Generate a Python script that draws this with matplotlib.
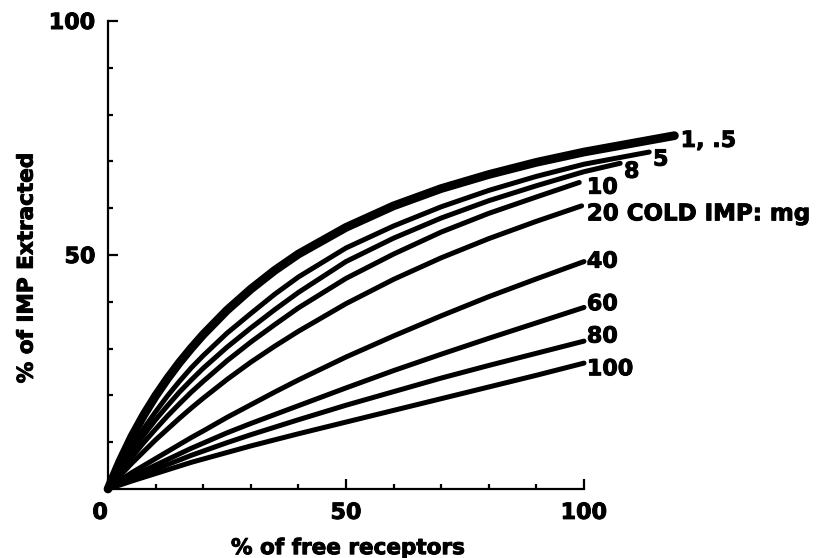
import numpy as np
import matplotlib.pyplot as plt
import matplotlib.patheffects as pe
from matplotlib.ticker import FixedLocator

# % of free receptors (common x grid), curves
x_pts = [0, 2.5, 5, 7.5, 10, 12.5, 15, 17.5, 20, 25, 30, 35, 40, 50, 60, 70, 80, 90, 100]

# cold IMP dose (mg) -> % of IMP extracted at x_pts, plus where each curve ends
dose_labels = ['1, .5', '5', '8', '10', '20 COLD IMP: mg', '40', '60', '80', '100']
end_x = [119, 113.7, 107.6, 99, 99.5, 100, 100, 100, 100]
end_y = [75.5, 72.0, 69.6, 65.5, 60.5, 48.6, 38.8, 31.6, 26.9]

y_1 = [0, 5.9, 11.2, 15.8, 19.9, 23.6, 27.0, 30.1, 33.0, 38.2, 42.7, 46.7, 50.2, 55.9, 60.5, 64.2, 67.2, 69.8, 72.0]
y_5 = [0, 4.7, 9.0, 12.9, 16.5, 19.9, 23.0, 25.9, 28.5, 33.3, 37.5, 41.6, 45.3, 51.5, 56.2, 60.3, 63.8, 66.8, 69.4]
y_8 = [0, 4.2, 8.0, 11.5, 14.8, 17.8, 20.7, 23.3, 25.8, 30.3, 34.4, 38.3, 42.0, 48.6, 53.6, 57.9, 61.6, 64.8, 67.8]
y_10 = [0, 3.5, 6.8, 9.9, 12.8, 15.6, 18.2, 20.7, 23.0, 27.4, 31.4, 35.1, 38.7, 45.0, 50.2, 54.9, 58.9, 62.4, 65.5]
y_20 = [0, 2.8, 5.5, 8.0, 10.5, 12.8, 15.1, 17.3, 19.4, 23.4, 27.1, 30.5, 33.7, 39.6, 44.8, 49.4, 53.5, 57.2, 60.5]
y_40 = [0, 1.8, 3.5, 5.0, 6.5, 8.0, 9.5, 11.0, 12.4, 15.3, 18.0, 20.7, 23.3, 28.2, 32.7, 37.0, 41.1, 44.9, 48.6]
y_60 = [0, 1.3, 2.6, 3.9, 5.1, 6.3, 7.5, 8.7, 9.8, 12.0, 14.0, 15.9, 17.8, 21.6, 25.3, 28.8, 32.2, 35.5, 38.8]
y_80 = [0, 1.1, 2.2, 3.2, 4.2, 5.2, 6.2, 7.2, 8.1, 9.9, 11.6, 13.2, 14.8, 17.9, 20.8, 23.7, 26.4, 29.0, 31.6]
y_100 = [0, 0.85, 1.7, 2.5, 3.3, 4.1, 4.9, 5.7, 6.4, 7.8, 9.2, 10.5, 11.8, 14.3, 16.8, 19.3, 21.8, 24.3, 26.9]
curves = [y_1, y_5, y_8, y_10, y_20, y_40, y_60, y_80, y_100]

# where the dose labels sit (left edge, baseline)
label_x = [120.3, 114.5, 108.4, 100.6, 100.6, 100.6, 100.6, 100.6, 100.6]
label_y = [73.1, 69.1, 66.5, 63.1, 57.4, 47.3, 38.2, 31.3, 24.3]

xtick_vals = [0, 50, 100]
xtick_labels = ['0', '50', '100']
ytick_vals = [50, 100]
ytick_labels = ['50', '100']

plt.rcParams['font.family'] = 'DejaVu Sans'
plt.rcParams['font.weight'] = 'bold'
heavy = [pe.withStroke(linewidth=0.7, foreground='black')]

fig = plt.figure(figsize=(8.21, 5.58), dpi=100)
ax = fig.add_axes([108/821, 69/558, 476/821, 468/558])

for i in range(len(curves)):
    xs = list(x_pts)
    ys = list(curves[i])
    if end_x[i] < 100:
        xs = xs[:-1]
        ys = ys[:-1]
    xs.append(end_x[i])
    ys.append(end_y[i])
    lw = 6.3 if i == 0 else 3.6
    ax.plot(xs, ys, color='black', lw=lw, clip_on=False,
            solid_capstyle='round', solid_joinstyle='round')
    fs = 16.5 if i == 4 else 16
    ax.text(label_x[i], label_y[i], dose_labels[i], fontsize=fs, fontweight='bold',
            ha='left', va='baseline', path_effects=heavy)

ax.set_xlim(0, 100)
ax.set_ylim(0, 100)
for s in ['top', 'right']:
    ax.spines[s].set_visible(False)
for s in ['left', 'bottom']:
    ax.spines[s].set_linewidth(1.6)

ax.set_xticks(xtick_vals)
ax.set_xticklabels(xtick_labels)
ax.set_yticks(ytick_vals)
ax.set_yticklabels(ytick_labels)
ax.xaxis.set_minor_locator(FixedLocator([10, 20, 30, 40, 60, 70, 80, 90]))
ax.yaxis.set_minor_locator(FixedLocator([10, 20, 30, 40, 60, 70, 80, 90]))
ax.tick_params(which='major', direction='in', length=7, width=1.6, labelsize=16, pad=10)
ax.tick_params(which='minor', direction='in', length=3.5, width=1.6)
ax.tick_params(axis='y', which='major', pad=9)
for lab in ax.get_xticklabels() + ax.get_yticklabels():
    lab.set_path_effects(heavy)
ax.get_xticklabels()[0].set_horizontalalignment('right')

ax.set_xlabel('% of free receptors', fontsize=15.5, fontweight='bold', path_effects=heavy)
ax.xaxis.set_label_coords(0.504, -0.105)
ax.xaxis.label.set_va('top')
ax.set_ylabel('% of IMP Extracted', fontsize=15.5, fontweight='bold', path_effects=heavy)
ax.yaxis.set_label_coords(-0.15, 0.472)

fig.savefig('out.png', dpi=100)
